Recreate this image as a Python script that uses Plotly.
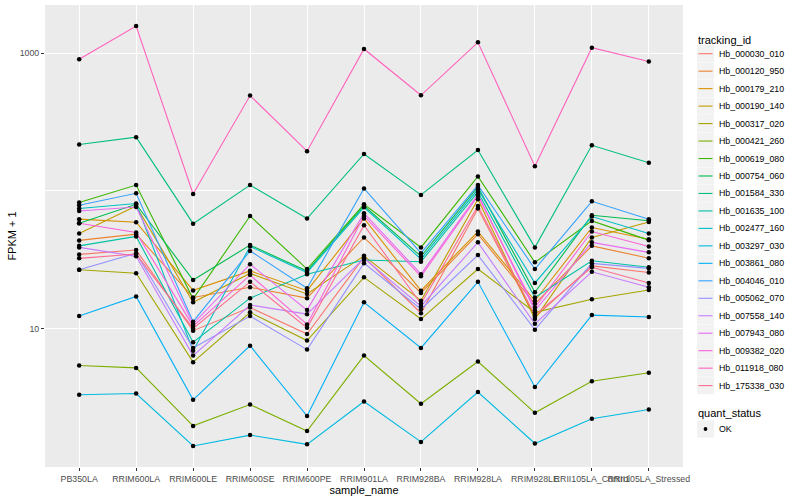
import numpy as np
import plotly.graph_objects as go

samples = ["PB350LA", "RRIM600LA", "RRIM600LE", "RRIM600SE", "RRIM600PE", "RRIM901LA",
           "RRIM928BA", "RRIM928LA", "RRIM928LE", "RRII105LA_Control", "RRII105LA_Stressed"]

tracking_ids = ["Hb_000030_010", "Hb_000120_950", "Hb_000179_210", "Hb_000190_140",
                "Hb_000317_020", "Hb_000421_260", "Hb_000619_080", "Hb_000754_060",
                "Hb_001584_330", "Hb_001635_100", "Hb_002477_160", "Hb_003297_030",
                "Hb_003861_080", "Hb_004046_010", "Hb_005062_070", "Hb_007558_140",
                "Hb_007943_080", "Hb_009382_020", "Hb_011918_080", "Hb_175338_030"]

colors = ["#F8766D", "#EA8331", "#D89000", "#C09B00", "#A3A500", "#7CAE00", "#39B600",
          "#00BB4E", "#00BF7D", "#00C1A3", "#00BFC4", "#00BAE0", "#00B0F6", "#35A2FF",
          "#9590FF", "#C77CFF", "#E76BF3", "#FA62DB", "#FF62BC", "#FF6C91"]

# FPKM + 1 per sample (order of `samples`)
hb_000030_010 = [34.5, 37.1, 9.64, 14.2, 9.12, 33.0, 12.9, 74.3, 12.1, 28.5, 25.5]
hb_000120_950 = [43.6, 48.4, 16.8, 19.9, 16.6, 45.8, 18.1, 48.4, 15.1, 39.8, 32.4]
hb_000179_210 = [62.2, 59.1, 18.9, 26.2, 18.8, 62.9, 18.8, 50.6, 15.9, 54.1, 44.5]
hb_000190_140 = [49.0, 77.6, 15.5, 25.1, 17.8, 33.7, 15.9, 86.8, 11.7, 45.8, 59.4]
hb_000317_020 = [26.7, 25.2, 5.69, 13.1, 8.16, 23.5, 11.7, 27.0, 13.1, 16.3, 19.0]
hb_000421_260 = [5.38, 5.17, 1.96, 2.80, 1.80, 6.35, 2.84, 5.75, 2.44, 4.14, 4.76]
hb_000619_080 = [82.1, 110, 16.4, 65.6, 27.0, 79.8, 38.8, 127, 30.2, 60.4, 43.8]
hb_000754_060 = [58.1, 79.8, 22.5, 40.3, 26.1, 77.9, 33.4, 106.6, 18.3, 66.4, 60.6]
hb_001584_330 = [217, 245, 57.7, 110, 62.9, 185, 93.3, 198, 38.8, 214, 160]
hb_001635_100 = [39.8, 46.6, 7.94, 16.6, 24.8, 31.4, 30.5, 98.0, 16.8, 31.0, 27.8]
hb_002477_160 = [74.3, 80.8, 6.90, 39.4, 25.5, 75.9, 31.9, 102.5, 21.4, 65.0, 49.0]
hb_003297_030 = [3.30, 3.37, 1.40, 1.68, 1.44, 2.95, 1.50, 3.45, 1.46, 2.21, 2.58]
hb_003861_080 = [12.3, 17.1, 3.03, 7.50, 2.31, 15.5, 7.22, 21.8, 3.75, 12.5, 12.1]
hb_004046_010 = [78.5, 95.9, 11.2, 36.6, 19.6, 104, 35.2, 110, 27.0, 83.9, 62.2]
hb_005062_070 = [26.7, 35.2, 7.22, 12.3, 7.02, 29.8, 13.8, 34.1, 9.80, 29.7, 27.3]
hb_007558_140 = [38.8, 33.4, 6.35, 14.8, 12.7, 32.3, 14.5, 42.2, 10.8, 25.8, 19.9]
hb_007943_080 = [71.4, 76.3, 10.8, 29.3, 13.6, 68.7, 24.8, 94.3, 13.5, 42.2, 35.7]
hb_009382_020 = [58.1, 49.8, 10.4, 24.4, 10.7, 65.6, 23.9, 91.7, 14.2, 50.6, 39.4]
hb_011918_080 = [902, 1574, 94.8, 492, 194, 1072, 494, 1197, 151, 1096, 868]
hb_175338_030 = [32.3, 34.7, 10.0, 21.8, 10.1, 56.2, 15.1, 77.6, 12.5, 27.8, 21.4]

series = [hb_000030_010, hb_000120_950, hb_000179_210, hb_000190_140, hb_000317_020,
          hb_000421_260, hb_000619_080, hb_000754_060, hb_001584_330, hb_001635_100,
          hb_002477_160, hb_003297_030, hb_003861_080, hb_004046_010, hb_005062_070,
          hb_007558_140, hb_007943_080, hb_009382_020, hb_011918_080, hb_175338_030]

quant_status = "OK"
y_ticks = [10, 1000]
y_minor = [100]

FONT = "Liberation Sans, Arial, sans-serif"
W, H = 800, 500
ML, MR, MT, MB = 45, 117, 5, 33
PW, PH = W - ML - MR, H - MT - MB


def px_x(px):
    return (px - ML) / PW


def px_y(py):
    return (H - MB - py) / PH


fig = go.Figure()
for tid, col, vals in zip(tracking_ids, colors, series):
    fig.add_trace(go.Scatter(
        x=samples, y=vals, mode="lines", name=tid,
        line=dict(color=col, width=1.1), showlegend=False, hoverinfo="skip",
    ))

all_x = [s for _ in series for s in samples]
all_y = [v for vals in series for v in vals]
fig.add_trace(go.Scatter(
    x=all_x, y=all_y, mode="markers", name=quant_status,
    marker=dict(color="black", size=4.5), showlegend=False,
))

lo = np.log10(min(all_y))
hi = np.log10(max(all_y))
pad = (hi - lo) * 0.05

# manual ggplot-style legend
shapes, annots = [], []
annots.append(dict(text="tracking_id", x=px_x(696), y=px_y(40.5), xref="paper", yref="paper",
                   xanchor="left", yanchor="middle", showarrow=False,
                   font=dict(size=11, color="black")))
step = 17.47
for i, (tid, col) in enumerate(zip(tracking_ids, colors)):
    cy = 53.7 + i * step
    shapes.append(dict(type="rect", xref="paper", yref="paper",
                       x0=px_x(697), x1=px_x(714), y0=px_y(cy - 8.6), y1=px_y(cy + 8.6),
                       fillcolor="#F2F2F2", line=dict(width=0), layer="below"))
    shapes.append(dict(type="line", xref="paper", yref="paper",
                       x0=px_x(698.5), x1=px_x(712.5), y0=px_y(cy), y1=px_y(cy),
                       line=dict(color=col, width=1.1)))
    annots.append(dict(text=tid, x=px_x(716.5), y=px_y(cy), xref="paper", yref="paper",
                       xanchor="left", yanchor="middle", showarrow=False,
                       font=dict(size=8.8, color="black")))
annots.append(dict(text="quant_status", x=px_x(696), y=px_y(412.5), xref="paper", yref="paper",
                   xanchor="left", yanchor="middle", showarrow=False,
                   font=dict(size=11, color="black")))
shapes.append(dict(type="rect", xref="paper", yref="paper",
                   x0=px_x(697), x1=px_x(714), y0=px_y(429 - 8.6), y1=px_y(429 + 8.6),
                   fillcolor="#F2F2F2", line=dict(width=0), layer="below"))
shapes.append(dict(type="circle", xref="paper", yref="paper",
                   x0=px_x(703.6), x1=px_x(707.4), y0=px_y(430.9), y1=px_y(427.1),
                   fillcolor="black", line=dict(width=0)))
annots.append(dict(text=quant_status, x=px_x(716.5), y=px_y(429), xref="paper", yref="paper",
                   xanchor="left", yanchor="middle", showarrow=False,
                   font=dict(size=8.8, color="black")))

fig.update_layout(
    width=W, height=H,
    margin=dict(l=ML, r=MR, t=MT, b=MB),
    paper_bgcolor="white", plot_bgcolor="#EBEBEB",
    font=dict(family=FONT, color="black"),
    showlegend=False,
    shapes=shapes, annotations=annots,
    xaxis=dict(
        type="category", range=[-0.6, len(samples) - 0.4], automargin=False,
        tickangle=0, ticks="outside", ticklen=3, tickcolor="#333333", tickwidth=1,
        tickfont=dict(size=8.8, color="#4D4D4D"),
        showgrid=True, gridcolor="white", gridwidth=1.1,
        zeroline=False, showline=False,
        title=dict(text="sample_name", font=dict(size=11), standoff=2),
    ),
    yaxis=dict(
        type="log", range=[lo - pad, hi + pad], automargin=False,
        tickvals=y_ticks, ticktext=[str(v) for v in y_ticks],
        ticks="outside", ticklen=3, tickcolor="#333333", tickwidth=1,
        tickfont=dict(size=8.8, color="#4D4D4D"),
        showgrid=True, gridcolor="white", gridwidth=1.1,
        minor=dict(tickvals=y_minor, showgrid=True, gridcolor="white", gridwidth=0.55, ticks=""),
        zeroline=False, showline=False,
        title=dict(text="FPKM + 1", font=dict(size=11), standoff=0),
    ),
)

fig.write_html("out.html", config={"displayModeBar": False},
               post_script="document.body.style.margin='0px';")
